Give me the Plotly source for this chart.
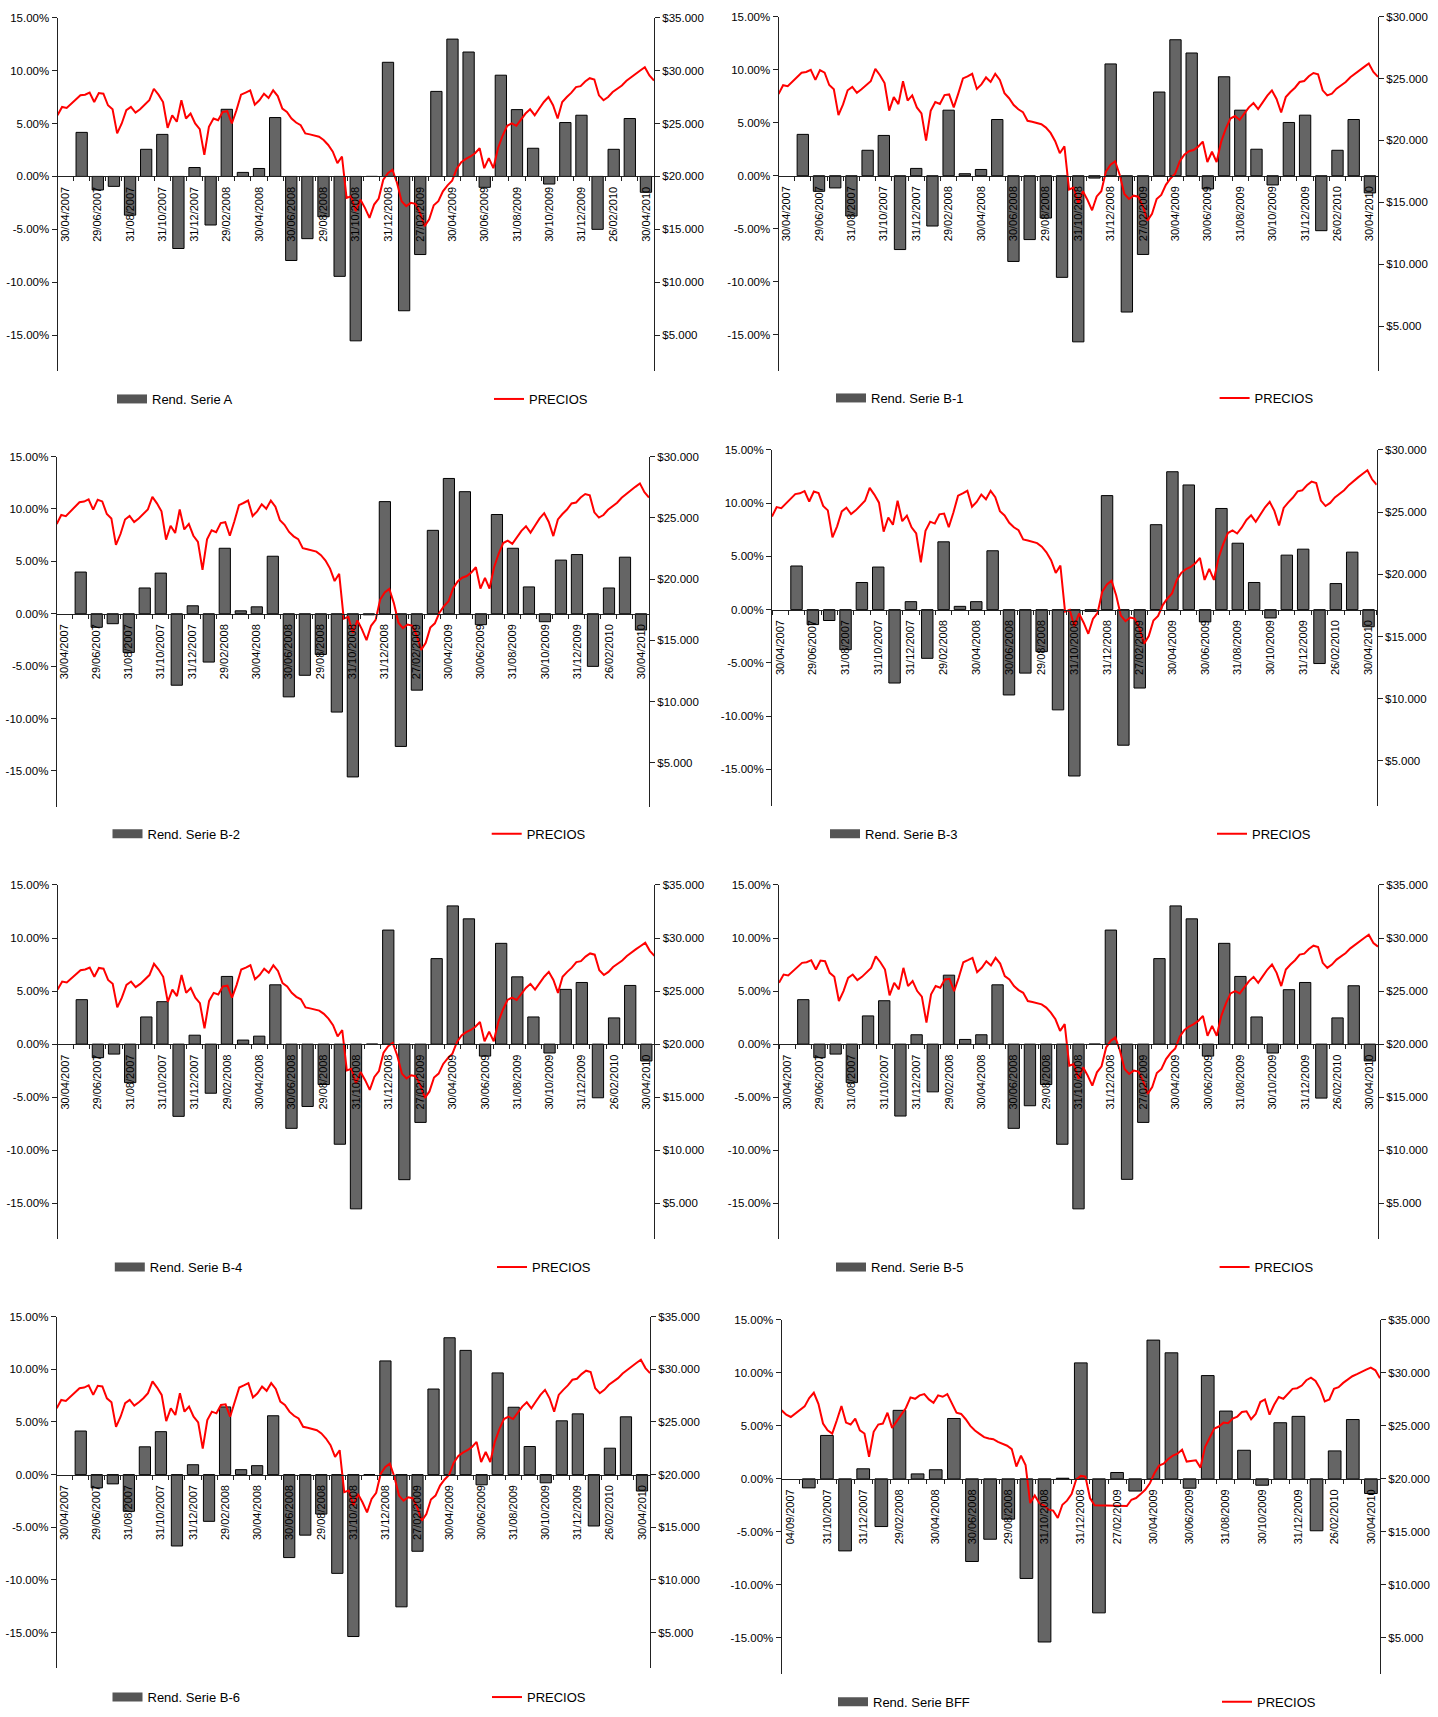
import plotly.graph_objects as go

W, H = 1438, 1717
FONT = "Liberation Sans, Arial, Helvetica, sans-serif"

fechas = ["30/04/2007", "31/05/2007", "29/06/2007", "31/07/2007", "31/08/2007", "28/09/2007",
          "31/10/2007", "30/11/2007", "31/12/2007", "31/01/2008", "29/02/2008", "31/03/2008",
          "30/04/2008", "30/05/2008", "30/06/2008", "31/07/2008", "29/08/2008", "30/09/2008",
          "31/10/2008", "28/11/2008", "31/12/2008", "30/01/2009", "27/02/2009", "31/03/2009",
          "30/04/2009", "29/05/2009", "30/06/2009", "31/07/2009", "31/08/2009", "30/09/2009",
          "30/10/2009", "30/11/2009", "31/12/2009", "29/01/2010", "26/02/2010", "31/03/2010",
          "30/04/2010"]
fechas_bff = ["04/09/2007", "28/09/2007", "31/10/2007", "30/11/2007", "31/12/2007", "31/01/2008",
              "29/02/2008", "31/03/2008", "30/04/2008", "30/05/2008", "30/06/2008", "31/07/2008",
              "29/08/2008", "30/09/2008", "31/10/2008", "28/11/2008", "31/12/2008", "30/01/2009",
              "27/02/2009", "31/03/2009", "30/04/2009", "29/05/2009", "30/06/2009", "31/07/2009",
              "31/08/2009", "30/09/2009", "30/10/2009", "30/11/2009", "31/12/2009", "29/01/2010",
              "26/02/2010", "31/03/2010", "30/04/2010"]

# monthly returns (%)
rend_a = [None, 4.16, -1.28, -0.94, -3.66, 2.56, 3.97, -6.81, 0.84, -4.59, 6.34, 0.38, 0.75, 5.56,
          -7.94, -5.88, -3.81, -9.44, -15.53, 0.0, 10.78, -12.69, -7.38, 8.03, 12.97, 11.75, -1.03,
          9.56, 6.31, 2.66, -0.72, 5.09, 5.78, -5.00, 2.56, 5.47, -1.50]
rend_b1 = [None, 3.90, -1.47, -1.15, -3.80, 2.40, 3.80, -6.96, 0.69, -4.74, 6.18, 0.19, 0.59, 5.30,
           -8.08, -6.02, -3.99, -9.58, -15.66, -0.22, 10.54, -12.85, -7.42, 7.89, 12.82, 11.57, -1.25,
           9.33, 6.18, 2.50, -0.87, 5.02, 5.71, -5.18, 2.40, 5.30, -1.62]
rend_b2 = [None, 3.98, -1.29, -0.95, -3.69, 2.46, 3.88, -6.82, 0.76, -4.61, 6.25, 0.28, 0.66, 5.49,
           -7.93, -5.87, -3.88, -9.38, -15.57, -0.10, 10.70, -12.66, -7.29, 7.96, 12.91, 11.65, -1.04,
           9.47, 6.25, 2.56, -0.76, 5.12, 5.65, -5.02, 2.46, 5.40, -1.55]
rend_b3 = [None, 4.10, -1.40, -1.02, -3.76, 2.55, 4.00, -6.89, 0.75, -4.57, 6.37, 0.31, 0.75, 5.53,
           -8.01, -5.96, -3.94, -9.41, -15.62, -0.16, 10.71, -12.73, -7.36, 7.98, 12.95, 11.71, -1.15,
           9.50, 6.24, 2.55, -0.78, 5.12, 5.68, -5.06, 2.45, 5.40, -1.61]
rend_b4 = [None, 4.19, -1.28, -0.94, -3.63, 2.56, 4.00, -6.81, 0.84, -4.63, 6.38, 0.38, 0.75, 5.59,
           -7.94, -5.88, -3.81, -9.44, -15.53, 0.0, 10.75, -12.78, -7.38, 8.06, 13.03, 11.81, -1.13,
           9.50, 6.34, 2.56, -0.84, 5.16, 5.81, -5.06, 2.47, 5.53, -1.59]
rend_b5 = [None, 4.19, -1.28, -0.94, -3.63, 2.66, 4.09, -6.78, 0.88, -4.50, 6.50, 0.44, 0.88, 5.59,
           -7.94, -5.81, -3.81, -9.44, -15.53, 0.0, 10.75, -12.75, -7.38, 8.06, 13.03, 11.81, -1.13,
           9.50, 6.38, 2.56, -0.84, 5.13, 5.81, -5.09, 2.47, 5.50, -1.59]
rend_b6 = [None, 4.14, -1.26, -0.88, -3.49, 2.64, 4.08, -6.78, 0.94, -4.44, 6.43, 0.47, 0.85, 5.59,
           -7.88, -5.75, -3.75, -9.38, -15.38, 0.0, 10.80, -12.56, -7.28, 8.13, 13.00, 11.80, -0.97,
           9.66, 6.40, 2.67, -0.78, 5.11, 5.77, -4.88, 2.51, 5.49, -1.56]
rend_bff = [None, -0.85, 4.10, -6.80, 0.95, -4.50, 6.47, 0.47, 0.86, 5.70, -7.80, -5.70, -3.80, -9.40,
            -15.40, 0.06, 10.95, -12.65, 0.60, -1.15, 13.10, 11.90, -0.88, 9.75, 6.40, 2.70, -0.60,
            5.30, 5.90, -4.90, 2.64, 5.60, -1.38]

# price series (roughly weekly readings, $)
precios_a = [25780, 26560, 26470, 26880, 27280, 27660, 27720, 27910, 27030, 27880,
             27810, 26720, 26340, 24060, 25000, 26250, 26560, 26030, 26340, 26720,
             27190, 28280, 27720, 27030, 24590, 25780, 25160, 27190, 25470, 25940,
             25000, 24470, 22030, 24690, 25470, 25310, 26090, 26160, 25000, 26250,
             27720, 27910, 28130, 26780, 27190, 27810, 27410, 28130, 27590, 26410,
             26090, 25470, 25090, 24840, 24060, 23970, 23840, 23750, 23440, 22970,
             22340, 21250, 21880, 17970, 18130, 16720, 17810, 17030, 16090, 17340,
             17910, 19690, 20310, 20630, 19380, 17660, 17190, 17500, 17410, 16560,
             15310, 15940, 17280, 17660, 18590, 19160, 19590, 20720, 21340, 21660,
             21880, 22190, 22660, 20780, 21720, 20780, 22660, 23840, 24780, 25000,
             24780, 25310, 25940, 26340, 25780, 26410, 27030, 27500, 26720, 25470,
             27030, 27500, 27910, 28440, 28530, 28970, 29280, 29160, 27660, 27190,
             27500, 27970, 28280, 28590, 29030, 29380, 29690, 30000, 30310, 29530, 29060]
precios_b1 = [23740, 24460, 24380, 24750, 25120, 25470, 25530, 25700, 24890, 25680,
              25480, 24480, 24130, 22040, 22910, 24050, 24330, 23850, 24130, 24480,
              24780, 25780, 25270, 24640, 22410, 23500, 22930, 24780, 23220, 23640,
              22670, 22190, 19980, 22390, 23100, 22950, 23660, 23720, 22670, 23800,
              25010, 25180, 25380, 24160, 24530, 25090, 24730, 25380, 24890, 23820,
              23410, 22860, 22520, 22290, 21590, 21510, 21390, 21310, 21040, 20610,
              19940, 18970, 19530, 16040, 16190, 14930, 15900, 15200, 14360, 15480,
              15900, 17490, 18040, 18320, 17210, 15680, 15270, 15540, 15460, 14710,
              13530, 14080, 15270, 15600, 16420, 16930, 17310, 18300, 18850, 19130,
              19230, 19500, 19910, 18260, 19090, 18260, 19910, 20950, 21770, 21970,
              21660, 22120, 22670, 23020, 22530, 23080, 23620, 24040, 23350, 22260,
              23500, 23910, 24260, 24720, 24800, 25180, 25450, 25350, 24050, 23640,
              23780, 24180, 24450, 24720, 25100, 25400, 25670, 25940, 26210, 25530, 25130]
precios_b2 = [24490, 25230, 25140, 25530, 25910, 26270, 26330, 26510, 25670, 26480,
              26340, 25310, 24950, 22790, 23680, 24860, 25160, 24650, 24950, 25310,
              25680, 26710, 26180, 25530, 23220, 24350, 23760, 25680, 24050, 24500,
              23540, 23040, 20750, 23250, 23990, 23830, 24570, 24640, 23540, 24720,
              26030, 26210, 26410, 25150, 25530, 26110, 25740, 26410, 25910, 24800,
              24430, 23850, 23490, 23260, 22530, 22440, 22320, 22240, 21950, 21510,
              20860, 19840, 20430, 16780, 16930, 15610, 16630, 15900, 15020, 16190,
              16670, 18330, 18910, 19200, 18040, 16440, 16000, 16290, 16210, 15420,
              14210, 14800, 16040, 16390, 17260, 17790, 18190, 19230, 19810, 20110,
              20250, 20540, 20970, 19230, 20100, 19230, 20970, 22070, 22940, 23140,
              22870, 23360, 23940, 24310, 23790, 24370, 24950, 25380, 24660, 23510,
              24870, 25310, 25680, 26170, 26250, 26660, 26940, 26830, 25450, 25020,
              25230, 25660, 25950, 26230, 26640, 26960, 27240, 27530, 27810, 27090, 26660]
precios_b3 = [24650, 25400, 25310, 25700, 26090, 26450, 26510, 26690, 25850, 26660,
              26540, 25500, 25140, 22970, 23860, 25060, 25350, 24850, 25140, 25500,
              25910, 26950, 26410, 25760, 23430, 24570, 23980, 25910, 24270, 24720,
              23780, 23280, 20960, 23490, 24230, 24080, 24820, 24880, 23780, 24970,
              26320, 26500, 26710, 25430, 25820, 26410, 26030, 26710, 26200, 25080,
              24730, 24140, 23780, 23540, 22800, 22720, 22600, 22510, 22220, 21770,
              21140, 20110, 20700, 17000, 17150, 15820, 16850, 16110, 15220, 16410,
              16910, 18600, 19180, 19480, 18300, 16680, 16230, 16530, 16440, 15640,
              14430, 15030, 16290, 16650, 17530, 18060, 18470, 19530, 20120, 20420,
              20590, 20880, 21320, 19550, 20440, 19550, 21320, 22430, 23320, 23530,
              23280, 23770, 24370, 24740, 24220, 24810, 25390, 25830, 25100, 23920,
              25340, 25780, 26170, 26670, 26750, 27160, 27450, 27340, 25930, 25490,
              25740, 26180, 26470, 26760, 27170, 27500, 27790, 28080, 28370, 27640, 27200]
precios_b4 = [25140, 25900, 25810, 26210, 26600, 26970, 27030, 27210, 26350, 27180,
              27110, 26050, 25680, 23460, 24380, 25590, 25900, 25380, 25680, 26050,
              26510, 27570, 27030, 26350, 23980, 25140, 24530, 26510, 24830, 25290,
              24380, 23860, 21480, 24070, 24830, 24680, 25440, 25510, 24380, 25590,
              27030, 27210, 27430, 26110, 26510, 27110, 26720, 27430, 26900, 25750,
              25440, 24830, 24460, 24220, 23460, 23370, 23240, 23160, 22850, 22400,
              21780, 20720, 21330, 17520, 17680, 16300, 17360, 16600, 15690, 16910,
              17460, 19200, 19800, 20110, 18900, 17220, 16760, 17060, 16970, 16150,
              14930, 15540, 16850, 17220, 18130, 18680, 19100, 20200, 20810, 21120,
              21330, 21640, 22090, 20260, 21180, 20260, 22090, 23240, 24160, 24380,
              24160, 24680, 25290, 25680, 25140, 25750, 26350, 26810, 26050, 24830,
              26350, 26810, 27210, 27730, 27820, 28250, 28550, 28430, 26970, 26510,
              26810, 27270, 27570, 27880, 28300, 28650, 28950, 29250, 29550, 28790, 28330]
precios_b5 = [25780, 26560, 26470, 26880, 27280, 27660, 27720, 27910, 27030, 27880,
              27810, 26720, 26340, 24060, 25000, 26250, 26560, 26030, 26340, 26720,
              27190, 28280, 27720, 27030, 24590, 25780, 25160, 27190, 25470, 25940,
              25000, 24470, 22030, 24690, 25470, 25310, 26090, 26160, 25000, 26250,
              27720, 27910, 28130, 26780, 27190, 27810, 27410, 28130, 27590, 26410,
              26090, 25470, 25090, 24840, 24060, 23970, 23840, 23750, 23440, 22970,
              22340, 21250, 21880, 17970, 18130, 16720, 17810, 17030, 16090, 17340,
              17910, 19690, 20310, 20630, 19380, 17660, 17190, 17500, 17410, 16560,
              15310, 15940, 17280, 17660, 18590, 19160, 19590, 20720, 21340, 21660,
              21880, 22190, 22660, 20780, 21720, 20780, 22660, 23840, 24780, 25000,
              24780, 25310, 25940, 26340, 25780, 26410, 27030, 27500, 26720, 25470,
              27030, 27500, 27910, 28440, 28530, 28970, 29280, 29160, 27660, 27190,
              27500, 27970, 28280, 28590, 29030, 29380, 29690, 30000, 30310, 29530, 29190]
precios_b6 = [26300, 27090, 27000, 27420, 27830, 28210, 28270, 28470, 27570, 28440,
              28370, 27250, 26870, 24540, 25500, 26780, 27090, 26550, 26870, 27250,
              27730, 28850, 28270, 27570, 25080, 26300, 25660, 27730, 25980, 26460,
              25500, 24960, 22470, 25180, 25980, 25820, 26610, 26680, 25500, 26780,
              28270, 28470, 28690, 27320, 27730, 28370, 27960, 28690, 28140, 26940,
              26610, 25980, 25590, 25340, 24540, 24450, 24320, 24220, 23910, 23430,
              22790, 21680, 22320, 18330, 18490, 17050, 18170, 17370, 16410, 17690,
              18270, 20080, 20720, 21040, 19770, 18010, 17530, 17850, 17760, 16890,
              15620, 16260, 17630, 18010, 18960, 19540, 19980, 21130, 21770, 22090,
              22320, 22630, 23110, 21200, 22150, 21200, 23110, 24320, 25280, 25500,
              25280, 25820, 26460, 26870, 26300, 26940, 27570, 28050, 27250, 25980,
              27570, 28050, 28470, 29010, 29100, 29550, 29870, 29740, 28210, 27730,
              28050, 28530, 28850, 29160, 29610, 29970, 30280, 30600, 30920, 30120, 29640]
precios_bff = [26470, 26060, 25840, 26160, 26470, 26840, 27630, 28130, 27090, 25220,
               24590, 24280, 25530, 26880, 25310, 25130, 25690, 24590, 24280, 22090,
               24440, 25130, 25220, 26250, 24810, 25440, 26060, 26690, 27690, 27560,
               27880, 28000, 27500, 27190, 27880, 27750, 28000, 27130, 26250, 26130,
               25630, 25000, 24560, 24250, 23940, 23810, 23750, 23500, 23310, 23130,
               22810, 21160, 22190, 21310, 17720, 18440, 17690, 17500, 17090, 17000,
               16310, 17560, 17940, 18560, 19940, 20280, 20220, 18190, 17500, 17500,
               17500, 17500, 17500, 17500, 17500, 17440, 18030, 18190, 18560, 18970,
               19590, 20530, 21250, 21440, 21880, 22190, 22380, 22750, 21630, 21690,
               21750, 21060, 23030, 23880, 24750, 24940, 25310, 25250, 25690, 25880,
               26310, 26380, 25630, 26130, 27250, 27500, 26060, 27000, 27720, 27560,
               28060, 28500, 28560, 28810, 29310, 29560, 29250, 28500, 27310, 27500,
               28500, 28660, 29060, 29380, 29690, 29880, 30060, 30310, 30500, 30250, 29500]

ticks_izq = [-15, -10, -5, 0, 5, 10, 15]
etiquetas_izq = ["-15.00%", "-10.00%", "-5.00%", "0.00%", "5.00%", "10.00%", "15.00%"]
ticks_35 = [5000, 10000, 15000, 20000, 25000, 30000, 35000]
etiquetas_35 = ["$5.000", "$10.000", "$15.000", "$20.000", "$25.000", "$30.000", "$35.000"]
ticks_30 = [5000, 10000, 15000, 20000, 25000, 30000]
etiquetas_30 = ["$5.000", "$10.000", "$15.000", "$20.000", "$25.000", "$30.000"]

paneles = [
    dict(serie="Rend. Serie A", cats=fechas, rend=rend_a, precios=precios_a, pr=(1600, 35000),
         tv=ticks_35, tt=etiquetas_35, x=(57.5, 654), y=(11.7, 368), ly=396, lb=152, ll=529),
    dict(serie="Rend. Serie B-1", cats=fechas, rend=rend_b1, precios=precios_b1, pr=(1390, 30000),
         tv=ticks_30, tt=etiquetas_30, x=(778.5, 1378), y=(10.7, 367.7), ly=395, lb=871, ll=1254.6),
    dict(serie="Rend. Serie B-2", cats=fechas, rend=rend_b2, precios=precios_b2, pr=(1436, 30000),
         tv=ticks_30, tt=etiquetas_30, x=(56.7, 649), y=(454, 806.7), ly=834, lb=147.5, ll=526.7),
    dict(serie="Rend. Serie B-3", cats=fechas, rend=rend_b3, precios=precios_b3, pr=(1410, 30000),
         tv=ticks_30, tt=etiquetas_30, x=(772, 1376.7), y=(447.3, 805.7), ly=834, lb=865, ll=1252),
    dict(serie="Rend. Serie B-4", cats=fechas, rend=rend_b4, precios=precios_b4, pr=(1600, 35000),
         tv=ticks_35, tt=etiquetas_35, x=(57.6, 654.4), y=(885.7, 1242.7), ly=1270.7, lb=149.8, ll=532),
    dict(serie="Rend. Serie B-5", cats=fechas, rend=rend_b5, precios=precios_b5, pr=(1600, 35000),
         tv=ticks_35, tt=etiquetas_35, x=(779, 1378), y=(885.7, 1242.7), ly=1270.7, lb=871, ll=1254.6),
    dict(serie="Rend. Serie B-6", cats=fechas, rend=rend_b6, precios=precios_b6, pr=(1600, 35000),
         tv=ticks_35, tt=etiquetas_35, x=(56.7, 650), y=(1320.7, 1675), ly=1704, lb=147.5, ll=527),
    dict(serie="Rend. Serie BFF", cats=fechas_bff, rend=rend_bff, precios=precios_bff, pr=(1600, 35000),
         tv=ticks_35, tt=etiquetas_35, x=(781.6, 1380), y=(1324, 1680.5), ly=1708.7, lb=873, ll=1257),
]

YMIN, YMAX = -18.4, 15.0
BAR_COLOR = "#656565"
fig = go.Figure()
lay = {}


def key(kind, n):
    return kind + ("axis" if n == 1 else "axis%d" % n)


def ref(kind, n):
    return kind if n == 1 else "%s%d" % (kind, n)


for i, p in enumerate(paneles):
    nb, nl = 2 * i + 1, 2 * i + 2
    x0, x1 = p["x"][0] / W, p["x"][1] / W
    y0, y1 = 1 - p["y"][1] / H, 1 - p["y"][0] / H
    pos = y0 + (0 - YMIN) / (YMAX - YMIN) * (y1 - y0)
    ncat = len(p["cats"])
    lay[key("x", nb)] = dict(
        domain=[x0, x1], anchor="free", position=pos, range=[-0.5, ncat - 0.5],
        tickmode="array", tickvals=list(range(0, ncat, 2)), ticktext=p["cats"][::2],
        tickangle=-90, ticks="", showline=True, linecolor="#222222", linewidth=1,
        showgrid=False, zeroline=False, tickfont=dict(size=11, color="black"),
        ticklabelstandoff=5,
        minor=dict(tick0=-0.5, dtick=1, ticks="outside", ticklen=4, tickcolor="#222222",
                   showgrid=False))
    lay[key("x", nl)] = dict(domain=[x0, x1], overlaying=ref("x", nb), anchor=ref("y", nl),
                             visible=False, range=[0, len(p["precios"]) - 1])
    lay[key("y", nb)] = dict(
        domain=[y0, y1], anchor=ref("x", nb), range=[YMIN, YMAX], tickmode="array",
        tickvals=ticks_izq, ticktext=etiquetas_izq, ticks="outside", ticklen=5,
        tickcolor="#222222", showline=True, linecolor="#222222", linewidth=1,
        showgrid=False, zeroline=False, tickfont=dict(size=11.5, color="black"))
    lay[key("y", nl)] = dict(
        domain=[y0, y1], anchor=ref("x", nb), overlaying=ref("y", nb), side="right",
        range=list(p["pr"]), tickmode="array", tickvals=p["tv"], ticktext=p["tt"],
        ticks="outside", ticklen=5, tickcolor="#222222", showline=True,
        linecolor="#222222", linewidth=1, showgrid=False, zeroline=False,
        tickfont=dict(size=11.5, color="black"))
    lb_name = ref("legend", 2 * i + 1)
    ll_name = ref("legend", 2 * i + 2)
    fig.add_trace(go.Bar(
        x=list(range(ncat)), y=p["rend"], xaxis=ref("x", nb), yaxis=ref("y", nb), width=0.7,
        marker=dict(color=BAR_COLOR, line=dict(color="black", width=1)),
        name=p["serie"], showlegend=False, hoverinfo="skip"))
    # legend-only swatch (wide bar-like key, as in the original)
    fig.add_trace(go.Scatter(
        x=[None], y=[None], mode="lines", line=dict(color="#555555", width=9),
        xaxis=ref("x", nb), yaxis=ref("y", nb), name=p["serie"], legend=lb_name,
        hoverinfo="skip"))
    fig.add_trace(go.Scatter(
        x=list(range(len(p["precios"]))), y=p["precios"], mode="lines",
        line=dict(color="#ff0000", width=2), xaxis=ref("x", nl), yaxis=ref("y", nl),
        name="PRECIOS", legend=ll_name, hoverinfo="skip"))
    for nm, tx in ((lb_name, p["lb"]), (ll_name, p["ll"])):
        lay[nm] = dict(x=(tx - 40) / W, xanchor="left", y=1 - p["ly"] / H, yanchor="middle",
                       orientation="h", bgcolor="rgba(0,0,0,0)", borderwidth=0,
                       font=dict(size=13, family=FONT, color="black"), itemwidth=30)

fig.update_layout(
    width=W, height=H, margin=dict(l=0, r=0, t=0, b=0), paper_bgcolor="white",
    plot_bgcolor="white", font=dict(family=FONT, color="black"), showlegend=True, **lay)

fig.write_html("out.html", config={"displayModeBar": False},
               post_script="document.body.style.margin='0';document.body.style.overflow='hidden';")
